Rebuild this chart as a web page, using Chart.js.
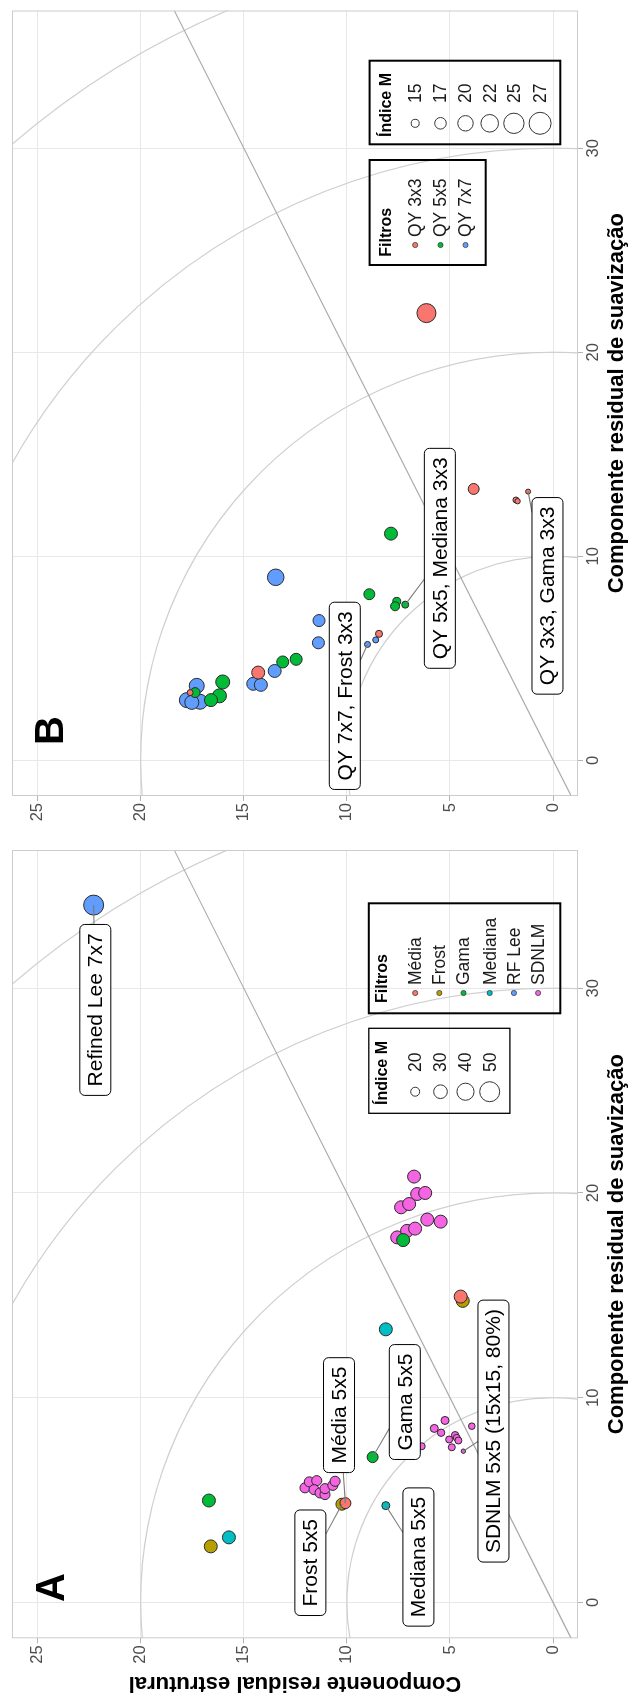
<!DOCTYPE html>
<html>
<head>
<meta charset="utf-8">
<script src="https://cdn.jsdelivr.net/npm/chart.js@4.4.1/dist/chart.umd.min.js"></script>
<style>
html, body { margin: 0; padding: 0; background: #fff; width: 632px; height: 1706px; overflow: hidden; }
#land { position: absolute; left: 0; top: 0; width: 1706px; height: 632px; transform-origin: 0 0; transform: translateY(1706px) rotate(-90deg); }
#chartA { position: absolute; left: 0; top: 0; }
#chartB { position: absolute; left: 880px; top: 0; }
</style>
</head>
<body>
<div id="land">
  <canvas id="chartA" width="880" height="632"></canvas>
  <canvas id="chartB" width="826" height="632"></canvas>
</div>
<script>
// ticks
const xTicks = [0, 10, 20, 30];
const yTicks = [0, 5, 10, 15, 20, 25];

// painel A: [suavizacao, estrutural, indice M]
const filtrosA = ['Média', 'Frost', 'Gama', 'Mediana', 'RF Lee', 'SDNLM'];
const mediaA = [[4.85, 10.07, 23.8], [14.94, 4.48, 28.3]];
const frostA = [[2.74, 16.6, 28.3], [4.8, 10.24, 25.9], [14.73, 4.38, 28.3]];
const gamaA = [[4.98, 16.69, 28.3], [7.1, 8.75, 23.8], [17.7, 7.27, 28.3]];
const medianaA = [[3.18, 15.72, 28.3], [4.73, 8.11, 18.4], [13.34, 8.11, 28.3]];
const rfleeA = [[34.06, 22.28, 50]];
const sdnlmA = [
  [5.6, 12.03, 22], [5.89, 11.82, 22], [5.95, 11.46, 22], [5.51, 11.59, 22], [5.35, 11.3, 22],
  [5.27, 11.06, 22], [5.56, 11.06, 22], [5.72, 10.68, 22], [5.92, 10.57, 22],
  [8.89, 5.24, 18.4], [8.5, 5.76, 18.4], [8.29, 5.43, 17.5], [8.61, 3.94, 16.5], [8.17, 4.75, 17.5],
  [8.04, 4.67, 17], [7.96, 5.04, 17], [7.91, 4.59, 17], [7.58, 4.91, 17], [7.39, 4.35, 14.2], [7.63, 6.37, 17],
  [17.83, 7.56, 28.3], [18.15, 7.08, 28.3], [18.26, 6.69, 28.3], [18.7, 6.1, 28.3], [18.6, 5.45, 28.3],
  [19.3, 7.37, 28.3], [19.46, 6.98, 28.3], [19.95, 6.59, 28.3], [20.0, 6.2, 28.3], [20.8, 6.74, 28.3]
];
const tamanhosA = [20, 30, 40, 50];

// painel B
const filtrosB = ['QY 3x3', 'QY 5x5', 'QY 7x7'];
const qy3B = [[21.92, 6.14, 23.5], [13.3, 3.85, 16.6], [13.17, 1.21, 13.9], [12.76, 1.8, 14.2], [12.7, 1.72, 14.0],
  [6.2, 8.44, 14.6], [4.3, 14.3, 18.0], [3.32, 17.6, 14.2]];
const qy5B = [[11.11, 7.86, 18.0], [8.14, 8.91, 16.6], [7.79, 7.58, 15.0], [7.55, 7.66, 15.5], [7.63, 7.17, 14.6],
  [4.95, 12.46, 17.3], [4.82, 13.11, 17.3], [3.84, 16.02, 18.8], [3.16, 16.18, 18.8], [2.95, 16.59, 18.0], [3.32, 17.36, 16.0]];
const qy7B = [[8.97, 13.45, 21.0], [6.85, 11.35, 17.3], [5.76, 11.38, 17.3], [5.9, 8.6, 14.2], [5.68, 9.0, 14.2],
  [4.38, 13.5, 18.0], [3.75, 14.54, 18.0], [3.7, 14.17, 18.0], [3.65, 17.28, 19.6], [2.95, 17.76, 19.6],
  [2.87, 17.12, 19.6], [2.84, 17.52, 18.8]];
const tamanhosB = [15, 17, 20, 22, 25, 27];

// reference circles and line
const raiosRef = [10, 20, 30, 40];
const inclinacao = 0.5;

const coresA = ['#F8766D', '#B79F00', '#00BA38', '#00BFC4', '#619CFF', '#F564E3'];
const coresB = ['#F8766D', '#00BA38', '#619CFF'];
const FONT = '"Liberation Sans", Arial, sans-serif';
Chart.defaults.font.family = FONT;

const rA = m => 1.63 * Math.sqrt(Math.max(m - 12.38, 0.6));
const rB = m => 2.958 * Math.sqrt(Math.max(m - 13.17, 0.6));

function decor(cfg) {
  return {
    id: 'decor',
    beforeDatasetsDraw(chart) {
      const { ctx, chartArea: a } = chart;
      const xs = chart.scales.x, ys = chart.scales.y;
      ctx.save();
      ctx.beginPath();
      ctx.rect(a.left, a.top, a.right - a.left, a.bottom - a.top);
      ctx.clip();
      const cx = xs.getPixelForValue(0), cy = ys.getPixelForValue(0);
      ctx.strokeStyle = '#CFCFCF';
      ctx.lineWidth = 1.2;
      raiosRef.forEach(r => {
        ctx.beginPath();
        ctx.ellipse(cx, cy, xs.getPixelForValue(r) - cx, cy - ys.getPixelForValue(r), 0, 0, Math.PI * 2);
        ctx.stroke();
      });
      ctx.strokeStyle = '#ABABAB';
      ctx.beginPath();
      ctx.moveTo(xs.getPixelForValue(xs.min), ys.getPixelForValue(inclinacao * xs.min));
      ctx.lineTo(xs.getPixelForValue(xs.max), ys.getPixelForValue(inclinacao * xs.max));
      ctx.stroke();
      ctx.restore();
      ctx.save();
      ctx.strokeStyle = '#CCCCCC';
      ctx.lineWidth = 1;
      ctx.strokeRect(a.left + 0.5, a.top + 0.5, a.right - a.left - 1, a.bottom - a.top - 1);
      ctx.restore();
    },
    afterDatasetsDraw(chart) {
      const ctx = chart.ctx;
      const xs = chart.scales.x, ys = chart.scales.y;
      ctx.save();
      // labels with leader segments
      ctx.font = '21px ' + FONT;
      ctx.textAlign = 'center';
      ctx.textBaseline = 'middle';
      cfg.rotulos.forEach(l => {
        const w = ctx.measureText(l.t).width + 18, h = 31;
        const cx = xs.getPixelForValue(l.bx), cy = ys.getPixelForValue(l.by);
        const px = xs.getPixelForValue(l.px), py = ys.getPixelForValue(l.py);
        const dx = cx - px, dy = cy - py;
        const s = Math.max(Math.abs(dx) / (w / 2), Math.abs(dy) / (h / 2));
        if (s > 1) {
          const ex = cx - dx / s, ey = cy - dy / s;
          if (Math.hypot(ex - px, ey - py) > 9) {
            ctx.strokeStyle = '#7A7A7A';
            ctx.lineWidth = 1.1;
            ctx.beginPath();
            ctx.moveTo(px, py);
            ctx.lineTo(ex, ey);
            ctx.stroke();
          }
        }
        ctx.beginPath();
        ctx.roundRect(cx - w / 2, cy - h / 2, w, h, 5);
        ctx.fillStyle = '#fff';
        ctx.fill();
        ctx.strokeStyle = '#000';
        ctx.lineWidth = 1;
        ctx.stroke();
        ctx.fillStyle = '#000';
        ctx.fillText(l.t, cx, cy + 1);
      });

      // size legend
      ctx.textAlign = 'left';
      const M = cfg.legM;
      ctx.strokeStyle = '#000';
      ctx.lineWidth = M.lw;
      ctx.strokeRect(M.x0, M.y0, M.x1 - M.x0, M.y1 - M.y0);
      ctx.fillStyle = '#000';
      ctx.font = 'bold 16px ' + FONT;
      ctx.fillText('Índice M', M.tx, M.ty);
      ctx.font = '17.5px ' + FONT;
      M.rows.forEach((ry, i) => {
        ctx.beginPath();
        ctx.arc(M.cx, ry, cfg.rfun(M.vals[i]), 0, Math.PI * 2);
        ctx.lineWidth = 1;
        ctx.strokeStyle = '#333';
        ctx.stroke();
        ctx.fillStyle = '#1a1a1a';
        ctx.fillText(String(M.vals[i]), M.lx, ry + 1);
      });

      // colour legend
      const F = cfg.legF;
      ctx.strokeStyle = '#000';
      ctx.lineWidth = F.lw;
      ctx.strokeRect(F.x0, F.y0, F.x1 - F.x0, F.y1 - F.y0);
      ctx.fillStyle = '#000';
      ctx.font = 'bold 16px ' + FONT;
      ctx.fillText('Filtros', F.tx, F.ty);
      ctx.font = '17.5px ' + FONT;
      F.rows.forEach((ry, i) => {
        ctx.beginPath();
        ctx.arc(F.dx, ry, 2.6, 0, Math.PI * 2);
        ctx.fillStyle = F.cores[i];
        ctx.fill();
        ctx.lineWidth = 0.7;
        ctx.strokeStyle = '#333';
        ctx.stroke();
        ctx.fillStyle = '#1a1a1a';
        ctx.fillText(F.nomes[i], F.lx, ry + 1);
      });

      // panel tag
      ctx.font = 'bold 40px ' + FONT;
      ctx.textAlign = 'center';
      ctx.fillStyle = '#000';
      ctx.fillText(cfg.tag.t, cfg.tag.x, cfg.tag.y);
      ctx.restore();
    }
  };
}

function makeChart(id, series, cores, nomes, rfun, yWidth, padRight, yTitle, deco) {
  const datasets = series.map((s, i) => ({
    label: nomes[i],
    data: s.map(p => ({ x: p[0], y: p[1], m: p[2] })),
    pointBackgroundColor: cores[i],
    pointBorderColor: '#2a2a2a',
    pointBorderWidth: 1,
    pointRadius: c => rfun(c.raw.m),
    pointHoverRadius: c => rfun(c.raw.m)
  }));
  return new Chart(document.getElementById(id), {
    type: 'scatter',
    data: { datasets },
    options: {
      responsive: false,
      animation: false,
      events: [],
      layout: { padding: { top: 12, right: padRight, left: 0, bottom: 0 } },
      plugins: { legend: { display: false }, tooltip: { enabled: false } },
      scales: {
        x: {
          type: 'linear', min: -1.75, max: 36.75,
          afterBuildTicks: s => { s.ticks = xTicks.map(v => ({ value: v })); },
          afterFit: s => { s.height = 54; },
          grid: { color: '#E8E8E8', tickColor: '#B3B3B3', tickLength: 5 },
          border: { display: false },
          ticks: { color: '#4D4D4D', font: { size: 16.5 }, padding: 1, maxRotation: 0 },
          title: { display: true, text: 'Componente residual de suavização', color: '#000',
                   font: { size: 22, weight: 'bold' }, padding: { top: 0, bottom: 2 } }
        },
        y: {
          type: 'linear', min: -1.21, max: 26.24,
          afterBuildTicks: s => { s.ticks = yTicks.map(v => ({ value: v })); },
          afterFit: s => { s.width = yWidth; },
          grid: { color: '#E8E8E8', tickColor: '#B3B3B3', tickLength: 5 },
          border: { display: false },
          ticks: { color: '#4D4D4D', font: { size: 16.5 }, padding: 2 },
          title: { display: yTitle, text: 'Componente residual estrutural', color: '#000',
                   font: { size: 22, weight: 'bold' }, padding: { top: 10, bottom: 0 } }
        }
      }
    },
    plugins: [decor(deco)]
  });
}

makeChart('chartA', [mediaA, frostA, gamaA, medianaA, rfleeA, sdnlmA], coresA, filtrosA, rA, 67.7, 24, true, {
  rfun: rA,
  rotulos: [
    { t: 'Frost 5x5', bx: 1.94, by: 11.77, px: 4.8, py: 10.24 },
    { t: 'Média 5x5', bx: 9.15, by: 10.38, px: 4.85, py: 10.07 },
    { t: 'Mediana 5x5', bx: 2.22, by: 6.53, px: 4.73, py: 8.11 },
    { t: 'Gama 5x5', bx: 9.79, by: 7.19, px: 7.1, py: 8.75 },
    { t: 'SDNLM 5x5 (15x15, 80%)', bx: 8.37, by: 2.89, px: 7.39, py: 4.35 },
    { t: 'Refined Lee 7x7', bx: 28.94, by: 22.2, px: 34.06, py: 22.28 }
  ],
  legM: { x0: 592.7, x1: 677.7, y0: 368.8, y1: 509.9, lw: 1.3, tx: 601, ty: 383, cx: 614.3, lx: 634,
          rows: [415.2, 440.5, 465.5, 489.7], vals: tamanhosA },
  legF: { x0: 692.7, x1: 802.7, y0: 368.8, y1: 560.3, lw: 2, tx: 703, ty: 383, dx: 713, lx: 721,
          rows: [415.2, 439.3, 463.5, 489.7, 513.9, 538.1], nomes: filtrosA, cores: coresA },
  tag: { t: 'A', x: 118.5, y: 53 }
});

makeChart('chartB', [qy3B, qy5B, qy7B], coresB, filtrosB, rB, 30, 5, false, {
  rfun: rB,
  rotulos: [
    { t: 'QY 7x7, Frost 3x3', bx: 3.16, by: 10.1, px: 5.68, py: 9.0 },
    { t: 'QY 5x5, Mediana 3x3', bx: 9.9, by: 5.49, px: 7.63, py: 7.17 },
    { t: 'QY 3x3, Gama 3x3', bx: 8.06, by: 0.27, px: 13.17, py: 1.21 }
  ],
  legM: { x0: 681.7, x1: 765.3, y0: 369.6, y1: 560.3, lw: 2, tx: 689, ty: 387, cx: 702.7, lx: 723,
          rows: [415.2, 440.5, 465.5, 489.7, 513.9, 540.1], vals: tamanhosB },
  legF: { x0: 561, x1: 666, y0: 369.6, y1: 485.7, lw: 2, tx: 569.3, ty: 387, dx: 581, lx: 589,
          rows: [415.2, 440.5, 465.5], nomes: filtrosB, cores: coresB },
  tag: { t: 'B', x: 95.5, y: 52 }
});
</script>
</body>
</html>
